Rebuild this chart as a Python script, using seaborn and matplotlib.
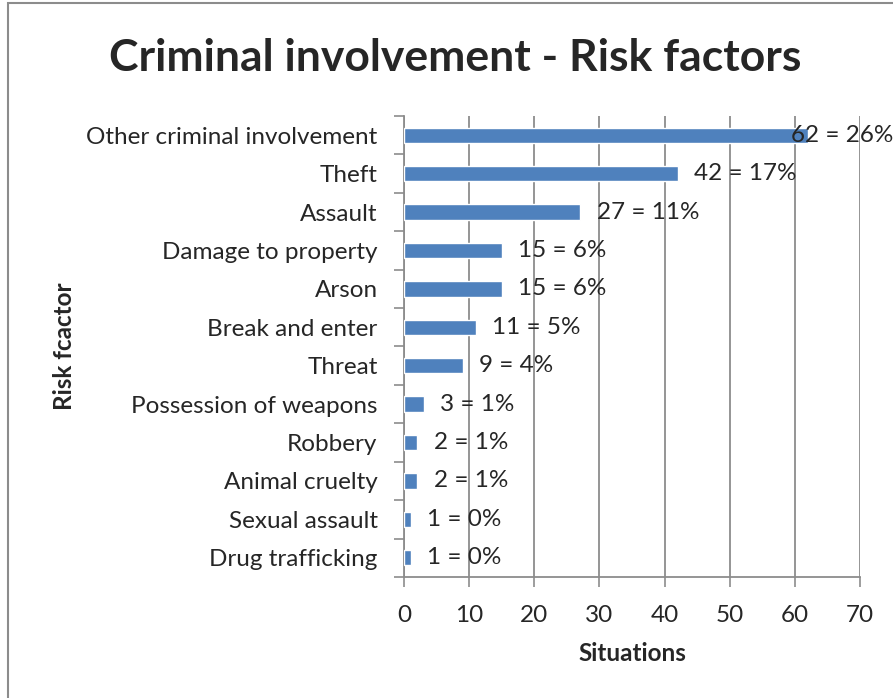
import matplotlib
matplotlib.use("Agg")
import matplotlib.pyplot as plt
import matplotlib.transforms as mtransforms
from matplotlib.patches import Rectangle
import pandas as pd
import seaborn as sns

# values
factors = ["Other criminal involvement", "Theft", "Assault", "Damage to property",
           "Arson", "Break and enter", "Threat", "Possession of weapons",
           "Robbery", "Animal cruelty", "Sexual assault", "Drug trafficking"]
situations = [62, 42, 27, 15, 15, 11, 9, 3, 2, 2, 1, 1]
percents = [26, 17, 11, 6, 6, 5, 4, 1, 1, 1, 0, 0]
x_ticks = [0, 10, 20, 30, 40, 50, 60, 70]

df = pd.DataFrame({"factor": factors, "situations": situations})

sns.set_style("white")
plt.rcParams["font.family"] = ["Lato", "DejaVu Sans"]
fs = 17.5

fig = plt.figure(figsize=(8.93, 6.98), dpi=100)
ax = fig.add_axes([0.4524, 0.1734, 0.5106, 0.6604])

sns.barplot(data=df, x="situations", y="factor", color="#4F81BD",
            width=0.4, saturation=1, ax=ax, zorder=3)

ax.set_xlim(0, 70)
ax.set_ylim(len(factors) - 0.5, -0.5)
ax.set_xticks(x_ticks)
ax.set_xticklabels([str(t) for t in x_ticks], fontsize=fs)
ax.tick_params(axis="x", direction="out", length=7, width=1.2, color="#8C8C8C",
               pad=13, bottom=True)
ax.tick_params(axis="y", which="major", length=0, labelsize=fs, pad=19)
ax.set_yticks([i + 0.5 for i in range(-1, len(factors))], minor=True)
ax.tick_params(axis="y", which="minor", direction="out", length=7, width=1.2,
               color="#8C8C8C", left=True)

ax.grid(axis="x", color="#8C8C8C", linewidth=1.3, zorder=0)
ax.set_axisbelow(True)
for side in ["top", "right"]:
    ax.spines[side].set_visible(False)
for side in ["left", "bottom"]:
    ax.spines[side].set_color("#8C8C8C")
    ax.spines[side].set_linewidth(1.3)

ax.set_xlabel("Situations", fontsize=fs, fontweight="bold", labelpad=12)
ax.set_ylabel("Risk fcactor", fontsize=fs, fontweight="bold")
ax.yaxis.set_label_coords(-0.72, 0.5)

# data labels
fig_x = mtransforms.blended_transform_factory(fig.transFigure, ax.transData)
for i, (v, p) in enumerate(zip(situations, percents)):
    txt = f"{v} = {p}%"
    if v > 55:
        ax.text(1.0, i, txt, transform=fig_x, ha="right", va="center",
                fontsize=fs, zorder=5, clip_on=False)
    else:
        ax.annotate(txt, xy=(v, i), xytext=(12, 0), textcoords="offset points",
                    ha="left", va="center", fontsize=fs, zorder=5)

fig.text(0.51, 0.917, "Criminal involvement - Risk factors", ha="center",
         va="center", fontsize=32, fontweight="bold")

fig.patches.append(Rectangle((0.009, -0.1), 1.2, 1.1 - 3 / 698,
                             transform=fig.transFigure, fill=False,
                             edgecolor="#8C8C8C", linewidth=1.5))

fig.savefig("out.png", dpi=100)
